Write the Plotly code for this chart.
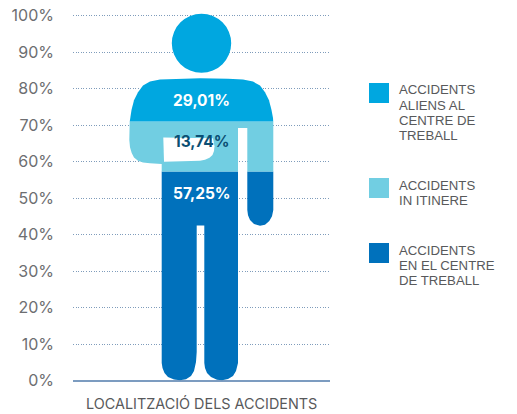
import plotly.graph_objects as go
import numpy as np

band_names = [["ACCIDENTS", "EN EL CENTRE", "DE TREBALL"], ["ACCIDENTS", "IN ITINERE"],
              ["ACCIDENTS", "ALIENS AL", "CENTRE DE", "TREBALL"]]
band_values = [57.25, 13.74, 29.01]
band_labels = ["57,25%", "13,74%", "29,01%"]
band_colors = ["#0071BC", "#71CEE2", "#00A7E0"]
label_colors = ["#FFFFFF", "#0B4F73", "#FFFFFF"]
tick_values = [0, 10, 20, 30, 40, 50, 60, 70, 80, 90, 100]
tick_labels = [f"{v}%" for v in tick_values]
category_title = "LOCALITZACIÓ DELS ACCIDENTS"

PX_X0, PX_X1 = 73, 330
PX_Y0, PER_PCT = 380.5, 3.65
W, H = 517, 414
LAYOUT_H = 424
Y_TOP = 104

# silhouette outline (x in axis units, y in percent)
body_x = [127, 102, 87, 77, 70, 65, 61, 58.5, 57, 56.7, 56.3, 57, 58.7, 61, 65, 70, 77, 88.7,
          88.7, 89.5, 91.5, 95, 101, 107, 113, 118, 121, 123, 123.7, 123.7,
          131.3, 131.3, 132, 134, 138, 144, 149, 155, 160, 163, 165, 165,
          174.3, 174.3, 175, 177, 181, 187, 192, 196.3, 199, 200.3, 200.3,
          200, 198.5, 196, 192, 187, 180, 170, 155, 127]
body_y = [82.8, 82.7, 82.5, 81.9, 80.8, 79.0, 76.8, 74.1, 71.9, 70.8, 65.9, 63.9, 62.3, 61.1, 60.2, 59.7, 59.5, 59.3,
          4.8, 3.4, 2.05, 0.96, 0.27, 0.05, 0.33, 1.2, 2.6, 5.1, 7.8, 42.5,
          42.5, 4.8, 3.4, 2.05, 0.96, 0.22, 0.05, 0.4, 1.2, 2.6, 4.8, 69.2,
          69.2, 46.7, 45.3, 44.0, 42.9, 42.4, 42.7, 43.7, 45.0, 46.7, 70.8,
          71.9, 74.1, 76.8, 79.0, 80.8, 81.9, 82.5, 82.7, 82.8]
hole_x = [90.3, 140, 141.5, 141, 139.5, 136.5, 132, 127, 91]
hole_y = [66.6, 66.4, 64.2, 62.9, 61.8, 61.0, 60.5, 60.2, 59.9]
head_cx, head_cy, head_rx, head_ry = 128.5, 92.4, 29.7, 8.1


def clip_band(xs, ys, lo, hi):
    """Clip a closed outline to a horizontal band."""
    def clip(pts, inside, level):
        out = []
        for i, p in enumerate(pts):
            q = pts[(i + 1) % len(pts)]
            if inside(p):
                out.append(p)
            if inside(p) != inside(q):
                t = (level - p[1]) / (q[1] - p[1])
                out.append((p[0] + t * (q[0] - p[0]), level))
        return out
    pts = list(zip(xs, ys))
    pts = clip(pts, lambda p: p[1] >= lo, lo)
    pts = clip(pts, lambda p: p[1] <= hi, hi)
    if not pts:
        return [], []
    pts.append(pts[0])
    return [p[0] for p in pts], [p[1] for p in pts]


def py(p):
    return 1 - p / H


fig = go.Figure()
edges = np.concatenate([[0], np.cumsum(band_values)])
for i in range(3):
    bx, by = clip_band(body_x, body_y, edges[i], edges[i + 1])
    fig.add_trace(go.Scatter(x=bx, y=by, mode="lines", fill="toself", fillcolor=band_colors[i],
                             line=dict(width=0), hoverinfo="skip", showlegend=False))
fig.add_trace(go.Scatter(x=hole_x + hole_x[:1], y=hole_y + hole_y[:1], mode="lines", fill="toself",
                         fillcolor="white", line=dict(width=0), hoverinfo="skip", showlegend=False))

shapes = [dict(type="circle", xref="x", yref="y", layer="above", line_width=0, fillcolor=band_colors[2],
               x0=head_cx - head_rx, x1=head_cx + head_rx, y0=head_cy - head_ry, y1=head_cy + head_ry)]

label_y = [51.2, 65.6, 76.8]
annotations = []
for i in range(3):
    annotations.append(dict(x=128.5, y=label_y[i], xref="x", yref="y", text=f"<b>{band_labels[i]}</b>",
                            showarrow=False, yanchor="middle",
                            font=dict(family="Inter", size=15.5, color=label_colors[i])))

annotations.append(dict(x=201.5 / W, y=py(403), xref="paper", yref="paper", text=category_title, showarrow=False,
                        yanchor="middle", font=dict(family="Inter", size=14.4, color="#58595B")))

legend_rows = [(2, 83), (1, 178), (0, 243)]
for idx, top in legend_rows:
    shapes.append(dict(type="rect", xref="paper", yref="paper", line_width=0, fillcolor=band_colors[idx],
                       x0=369 / W, x1=389 / W, y0=py(top + 20), y1=py(top)))
    for j, line in enumerate(band_names[idx]):
        annotations.append(dict(x=397 / W, y=py(top + 7 + 15.2 * j), xref="paper", yref="paper",
                                xanchor="left", yanchor="middle", align="left", text=line, showarrow=False,
                                font=dict(family="Liberation Sans", size=13.2, color="#58595B")))

fig.update_layout(
    width=W, height=LAYOUT_H, margin=dict(l=0, r=0, t=0, b=0), autosize=False,
    paper_bgcolor="white", plot_bgcolor="white", showlegend=False,
    shapes=shapes, annotations=annotations,
    xaxis=dict(domain=[PX_X0 / W, PX_X1 / W], range=[0, PX_X1 - PX_X0], visible=False, fixedrange=True),
    yaxis=dict(domain=[py(PX_Y0), py(PX_Y0 - Y_TOP * PER_PCT)], range=[0, Y_TOP], tickvals=tick_values,
               ticktext=tick_labels, ticks="", ticklabelstandoff=18,
               tickfont=dict(family="Inter", size=16, color="#6D6E71"),
               showgrid=True, gridcolor="#7F9CBB", griddash="1px,1.6px", gridwidth=1,
               zeroline=True, zerolinecolor="#7C9CC0", zerolinewidth=1.5, showline=False, fixedrange=True),
)
fig.write_html("out.html", default_width=W, default_height=LAYOUT_H, config=dict(displayModeBar=False, responsive=False),
               post_script="document.body.style.margin='0';")
